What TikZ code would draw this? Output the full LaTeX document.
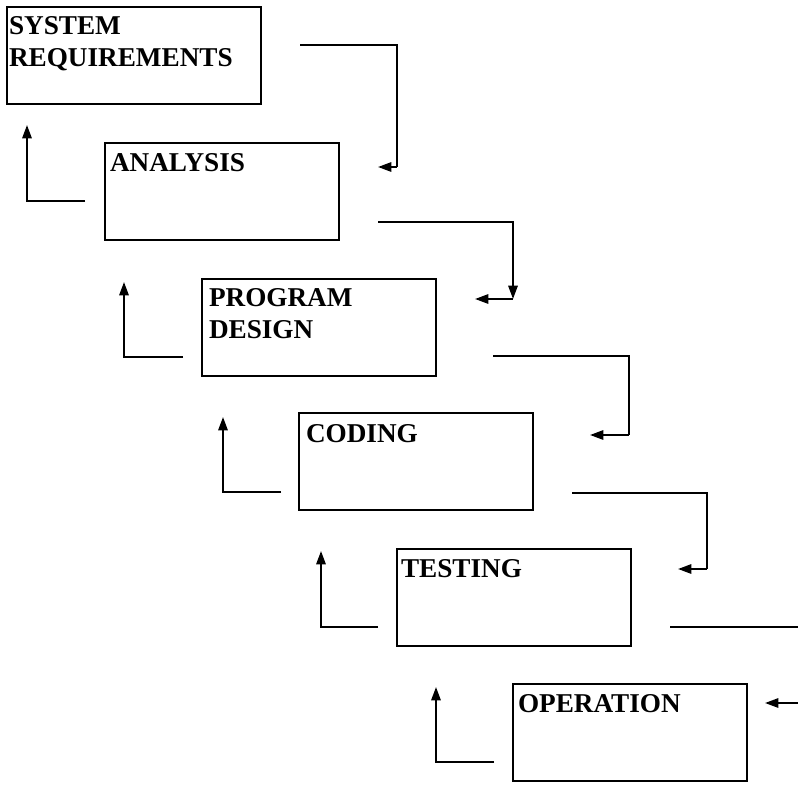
\documentclass[tikz,border=0pt]{standalone}
\usepackage{fontspec}
\setmainfont{Liberation Serif}
\usetikzlibrary{arrows.meta}
\begin{document}
\begin{tikzpicture}[x=0.75pt,y=-0.75pt,
  stagebox/.style={draw, line width=1.5pt, rectangle, inner sep=0pt, outer sep=0pt,
    minimum width=175.5pt, minimum height=72.75pt},
  stagetext/.style={inner sep=0pt, outer sep=0pt, anchor=base west,
    font=\fontsize{20.4}{24}\selectfont\bfseries},
  flow/.style={line width=1.5pt, line join=miter},
  tip/.style={-{Triangle[length=10pt,width=7pt]}}]
\useasboundingbox (0,0) rectangle (798,784);

% stage boxes
\node[stagebox, minimum width=190.5pt] (sr) at (134,55.5) {};
\node[stagebox] (an) at (221.5,191.5) {};
\node[stagebox] (pd) at (319,327.5) {};
\node[stagebox] (co) at (416,461.5) {};
\node[stagebox] (te) at (513.5,597) {};
\node[stagebox] (op) at (630,732.5) {};

% stage titles
\node[stagetext] (srt1) at (9,35) {SYSTEM};
\node[stagetext] (srt2) at (9,67) {REQUIREMENTS};
\node[stagetext] (ant) at (110,172) {ANALYSIS};
\node[stagetext] (pdt1) at (209,306) {PROGRAM};
\node[stagetext] (pdt2) at (209,338) {DESIGN};
\node[stagetext] (cot) at (306,442) {CODING};
\node[stagetext] (tet) at (401,577) {TESTING};
\node[stagetext] (opt) at (518,712) {OPERATION};

% forward (downstream) connectors
\coordinate (f1s) at (300,45);  \coordinate (f1c) at (397,167); \coordinate (f1e) at (378,167);
\coordinate (f2s) at (378,222); \coordinate (f2c) at (513,299); \coordinate (f2e) at (475,299);
\coordinate (f3s) at (493,356); \coordinate (f3c) at (629,435); \coordinate (f3e) at (590,435);
\coordinate (f4s) at (572,493); \coordinate (f4c) at (707,569); \coordinate (f4e) at (678,569);
\coordinate (f5s) at (670,627); \coordinate (f5c) at (798,627);
\coordinate (f6s) at (798,703); \coordinate (f6e) at (765,703);

\draw[flow] (f1s) -| (f1c);
\draw[flow, tip] (f1c) -- (f1e);
\draw[flow, tip] (f2s) -| (f2c);
\draw[flow, tip] (f2c) -- (f2e);
\draw[flow] (f3s) -| (f3c);
\draw[flow, tip] (f3c) -- (f3e);
\draw[flow] (f4s) -| (f4c);
\draw[flow, tip] (f4c) -- (f4e);
\draw[flow] (f5s) -- (f5c);
\draw[flow, tip] (f6s) -- (f6e);

% feedback (upstream) connectors
\coordinate (b1s) at (85,201);  \coordinate (b1e) at (27,125);
\coordinate (b2s) at (183,357); \coordinate (b2e) at (124,282);
\coordinate (b3s) at (281,492); \coordinate (b3e) at (223,417);
\coordinate (b4s) at (378,627); \coordinate (b4e) at (321,551);
\coordinate (b5s) at (494,762); \coordinate (b5e) at (436,687);

\draw[flow, tip] (b1s) -| (b1e);
\draw[flow, tip] (b2s) -| (b2e);
\draw[flow, tip] (b3s) -| (b3e);
\draw[flow, tip] (b4s) -| (b4e);
\draw[flow, tip] (b5s) -| (b5e);
\end{tikzpicture}
\end{document}
